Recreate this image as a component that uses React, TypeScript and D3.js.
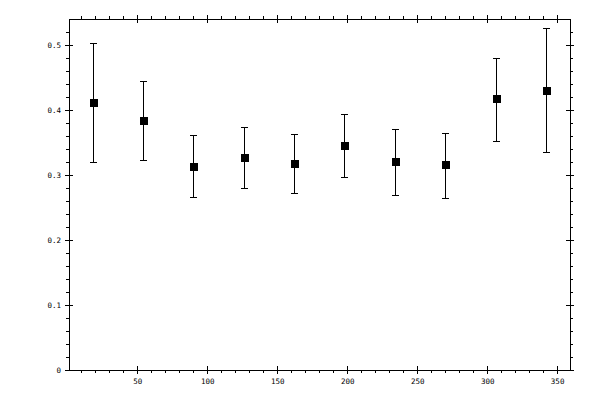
import React, { useEffect, useRef } from 'react';
import * as d3 from 'd3';

// angle bins and measured means with lower / upper error bounds
const angles = [18, 54, 90, 126, 162, 198, 234, 270, 306, 342];
const means = [0.411, 0.383, 0.313, 0.326, 0.317, 0.344, 0.320, 0.315, 0.417, 0.429];
const lows = [0.320, 0.323, 0.266, 0.279, 0.272, 0.296, 0.269, 0.264, 0.352, 0.334];
const highs = [0.503, 0.444, 0.361, 0.373, 0.363, 0.393, 0.370, 0.364, 0.479, 0.526];

const xMajor = [50, 100, 150, 200, 250, 300, 350];
const xMinor = d3.range(10, 360, 10);
const yMajor = [0, 0.1, 0.2, 0.3, 0.4, 0.5];
const yMinor = d3.range(0, 0.54, 0.02);

const App: React.FC = () => {
    const chartRef = useRef<SVGSVGElement | null>(null);

    useEffect(() => {
        if (!chartRef.current) return;

        const width = 600;
        const height = 400;
        const margin = { top: 19, right: 30, bottom: 30, left: 69 };
        const font = 'DejaVu Sans Mono, monospace';

        const svg = d3.select(chartRef.current)
            .attr('width', width)
            .attr('height', height)
            .attr('viewBox', `0 0 ${width} ${height}`);

        svg.selectAll('*').remove();

        const x = d3.scaleLinear()
            .domain([1.2, 359.2])
            .range([margin.left, width - margin.right]);

        const y = d3.scaleLinear()
            .domain([0, 0.54])
            .range([height - margin.bottom, margin.top]);

        const x0 = margin.left, x1 = width - margin.right;
        const y0 = height - margin.bottom, y1 = margin.top;

        const g = svg.append('g').attr('shape-rendering', 'crispEdges');

        // frame
        g.append('rect')
            .attr('x', x0).attr('y', y1)
            .attr('width', x1 - x0).attr('height', y0 - y1)
            .attr('fill', 'none').attr('stroke', '#000');

        const styleAxis = (sel: d3.Selection<SVGGElement, unknown, null, undefined>) => {
            sel.select('.domain').remove();
            sel.selectAll('.tick line').attr('stroke', '#000');
            sel.selectAll('.tick text')
                .attr('fill', '#000')
                .attr('font-size', '7.5px')
                .attr('font-family', font);
        };

        // minor ticks (outside)
        g.append('g').attr('transform', `translate(0,${y0})`)
            .call(d3.axisBottom(x).tickValues(xMinor).tickFormat(() => '').tickSizeInner(3).tickSizeOuter(0))
            .call(styleAxis);
        g.append('g').attr('transform', `translate(0,${y1})`)
            .call(d3.axisTop(x).tickValues(xMinor).tickFormat(() => '').tickSizeInner(3).tickSizeOuter(0))
            .call(styleAxis);
        g.append('g').attr('transform', `translate(${x0},0)`)
            .call(d3.axisLeft(y).tickValues(yMinor).tickFormat(() => '').tickSizeInner(3).tickSizeOuter(0))
            .call(styleAxis);
        g.append('g').attr('transform', `translate(${x1},0)`)
            .call(d3.axisRight(y).tickValues(yMinor).tickFormat(() => '').tickSizeInner(3).tickSizeOuter(0))
            .call(styleAxis);

        // major ticks (crossing the frame)
        g.append('g').attr('transform', `translate(0,${y0})`)
            .call(d3.axisBottom(x).tickValues(xMajor).tickFormat(d3.format('d')).tickSizeInner(4).tickSizeOuter(0).tickPadding(5))
            .call(styleAxis)
            .call(s => s.selectAll('.tick line').attr('y1', -4));
        g.append('g').attr('transform', `translate(0,${y1})`)
            .call(d3.axisTop(x).tickValues(xMajor).tickFormat(() => '').tickSizeInner(4).tickSizeOuter(0))
            .call(styleAxis)
            .call(s => s.selectAll('.tick line').attr('y1', 4));
        g.append('g').attr('transform', `translate(${x0},0)`)
            .call(d3.axisLeft(y).tickValues(yMajor).tickFormat(d => (+d === 0 ? '0' : d3.format('.1f')(+d))).tickSizeInner(4).tickSizeOuter(0).tickPadding(4))
            .call(styleAxis)
            .call(s => s.selectAll('.tick line').attr('x1', 4));
        g.append('g').attr('transform', `translate(${x1},0)`)
            .call(d3.axisRight(y).tickValues(yMajor).tickFormat(() => '').tickSizeInner(4).tickSizeOuter(0))
            .call(styleAxis)
            .call(s => s.selectAll('.tick line').attr('x1', -4));

        // error bars
        const bars = g.append('g').selectAll('g')
            .data(angles.map((a, i) => ({ a, m: means[i], lo: lows[i], hi: highs[i] })))
            .join('g');

        bars.append('line')
            .attr('x1', d => Math.round(x(d.a)) + 0.5).attr('x2', d => Math.round(x(d.a)) + 0.5)
            .attr('y1', d => y(d.lo)).attr('y2', d => y(d.hi))
            .attr('stroke', '#000');
        bars.append('line')
            .attr('x1', d => x(d.a) - 3).attr('x2', d => x(d.a) + 4)
            .attr('y1', d => y(d.hi)).attr('y2', d => y(d.hi))
            .attr('stroke', '#000');
        bars.append('line')
            .attr('x1', d => x(d.a) - 3).attr('x2', d => x(d.a) + 4)
            .attr('y1', d => y(d.lo)).attr('y2', d => y(d.lo))
            .attr('stroke', '#000');
        bars.append('rect')
            .attr('x', d => Math.round(x(d.a)) - 3.5)
            .attr('y', d => Math.round(y(d.m)) - 4)
            .attr('width', 8).attr('height', 8)
            .attr('fill', '#000');
    }, []);

    return (
        <div style={{ position: 'absolute', left: 0, top: 0, width: 600, height: 400, background: '#fff' }}>
            <svg ref={chartRef} style={{ display: 'block' }}></svg>
        </div>
    );
};

export default App;
